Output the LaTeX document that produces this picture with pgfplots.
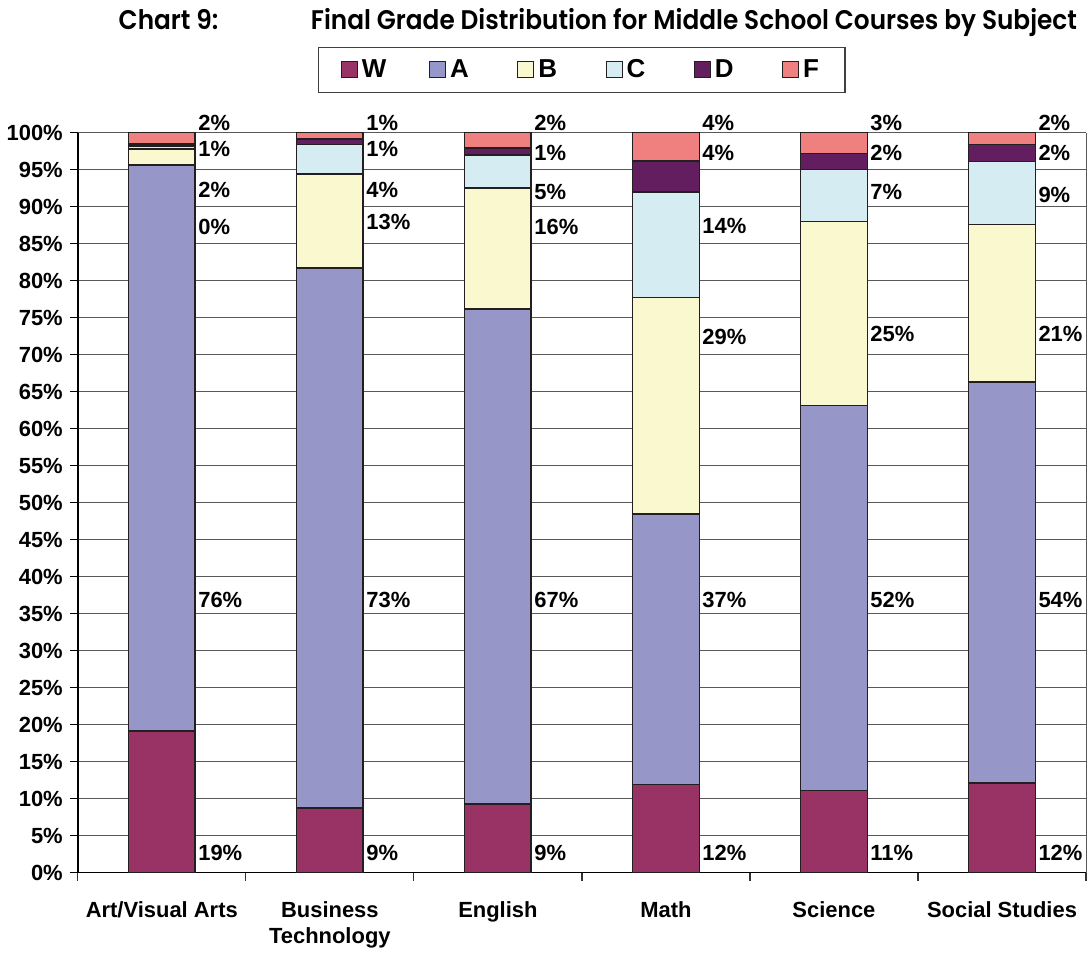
\documentclass[border=0pt]{standalone}
\usepackage{pgfplots}
\pgfplotsset{compat=1.18}
\usepackage{fontspec}
\setmainfont{Liberation Sans}
\newfontfamily\titlefont{Poppins}[UprightFont=* SemiBold, FakeStretch=0.92]

\definecolor{gW}{HTML}{993366}
\definecolor{gA}{HTML}{9696C8}
\definecolor{gB}{HTML}{FAF8CE}
\definecolor{gC}{HTML}{D4ECF2}
\definecolor{gD}{HTML}{621E5E}
\definecolor{gF}{HTML}{F08080}
\definecolor{edge}{HTML}{231F20}

% subject W A B C D F  (percent of final grades)
\pgfplotstableread{
x W A B C D F
0 19.1 76.5 2.2 0.4 0.3 1.5
1 8.7 73.0 12.7 4.0 0.7 0.9
2 9.3 66.9 16.3 4.5 0.9 2.1
3 11.9 36.6 29.2 14.3 4.2 3.8
4 11.1 52.0 24.9 7.0 2.2 2.8
5 12.1 54.2 21.3 8.5 2.3 1.6
}\grades

\newcommand\lbl[3]{\node[anchor=west, inner sep=0pt, font=\bfseries\fontsize{11}{12}\selectfont] at (axis cs:#1,#2) {#3\%};}
\newcommand\legtext[1]{\makebox[8pt][l]{#1}}

\begin{document}
\begin{tikzpicture}
\begin{axis}[
    scale only axis,
    width=505.5pt, height=371pt,
    ybar stacked,
    bar width=33.5pt,
    xmin=-0.5, xmax=5.5,
    ymin=0, ymax=100,
    axis x line*=bottom,
    axis y line*=left,
    axis line style={draw=black, line width=0.8pt, -},
    xtick={0,...,5},
    xticklabels={Art/Visual Arts, {Business\\Technology}, English, Math, Science, Social Studies},
    xticklabel style={align=center, anchor=north, yshift=-7pt,
        font=\bfseries\fontsize{11}{13}\selectfont},
    major x tick style={draw=none},
    minor xtick={-0.5,0.5,...,5.5},
    minor x tick style={draw=black!80, line width=0.6pt},
    minor tick length=4pt,
    xtick align=outside,
    ytick={0,5,...,100},
    yticklabel={\pgfmathprintnumber{\tick}\%},
    yticklabel style={font=\bfseries\fontsize{11}{12}\selectfont},
    /pgf/number format/assume math mode=true,
    ytick align=outside,
    major tick length=4pt,
    major y tick style={draw=black, line width=0.6pt},
    ymajorgrids,
    grid style={draw=black!65, line width=0.5pt},
    legend columns=6,
    legend style={at={(0.5,1)}, anchor=south, yshift=20pt,
        draw=black!75, line width=0.6pt,
        inner xsep=11pt, inner ysep=4pt,
        font=\bfseries\fontsize{13}{15}\selectfont,
        /tikz/every even column/.append style={column sep=23.75pt}},
    legend image code/.code={\draw[#1, line width=0.5pt] (0pt,-4pt) rectangle (8pt,4pt);},
    clip=false,
]
\addplot[fill=gW, draw=edge, line width=0.8pt] table[x=x, y=W] {\grades};
\addplot[fill=gA, draw=edge, line width=0.8pt] table[x=x, y=A] {\grades};
\addplot[fill=gB, draw=edge, line width=0.8pt] table[x=x, y=B] {\grades};
\addplot[fill=gC, draw=edge, line width=0.8pt] table[x=x, y=C] {\grades};
\addplot[fill=gD, draw=edge, line width=0.8pt] table[x=x, y=D] {\grades};
\addplot[fill=gF, draw=edge, line width=0.8pt] table[x=x, y=F] {\grades};
\legend{\legtext{W}, \legtext{A}, \legtext{B}, \legtext{C}, \legtext{D}, \legtext{F}}

% right frame
\draw[black!65, line width=0.5pt] (rel axis cs:1,0) -- (rel axis cs:1,1);

% data labels
\lbl{0.215}{2.6}{19}  \lbl{0.215}{36.8}{76} \lbl{0.215}{87.3}{0}
\lbl{0.215}{92.3}{2}  \lbl{0.215}{97.8}{1}  \lbl{0.215}{101.3}{2}
\lbl{1.215}{2.6}{9}   \lbl{1.215}{36.8}{73} \lbl{1.215}{87.9}{13}
\lbl{1.215}{92.3}{4}  \lbl{1.215}{97.8}{1}  \lbl{1.215}{101.3}{1}
\lbl{2.215}{2.6}{9}   \lbl{2.215}{36.8}{67} \lbl{2.215}{87.3}{16}
\lbl{2.215}{92.0}{5}  \lbl{2.215}{97.3}{1}  \lbl{2.215}{101.3}{2}
\lbl{3.215}{2.6}{12}  \lbl{3.215}{36.8}{37} \lbl{3.215}{72.4}{29}
\lbl{3.215}{87.4}{14} \lbl{3.215}{97.3}{4}  \lbl{3.215}{101.3}{4}
\lbl{4.215}{2.6}{11}  \lbl{4.215}{36.8}{52} \lbl{4.215}{72.8}{25}
\lbl{4.215}{92.0}{7}  \lbl{4.215}{97.3}{2}  \lbl{4.215}{101.3}{3}
\lbl{5.215}{2.6}{12}  \lbl{5.215}{36.8}{54} \lbl{5.215}{72.8}{21}
\lbl{5.215}{91.6}{9}  \lbl{5.215}{97.3}{2}  \lbl{5.215}{101.3}{2}

% title
\node[anchor=base west, font=\titlefont\fontsize{13.5}{16}\selectfont]
    at ([xshift=17pt, yshift=51.5pt]rel axis cs:0,1) {Chart 9:};
\node[anchor=base east, font=\titlefont\fontsize{13.5}{16}\selectfont]
    at ([xshift=-1pt, yshift=51.5pt]rel axis cs:1,1) {Final Grade Distribution for Middle School Courses by Subject};

% page frame
\path ([xshift=-37.5pt, yshift=-39pt]rel axis cs:0,0) rectangle ([xshift=1pt, yshift=66.5pt]rel axis cs:1,1);
\end{axis}
\end{tikzpicture}
\end{document}
